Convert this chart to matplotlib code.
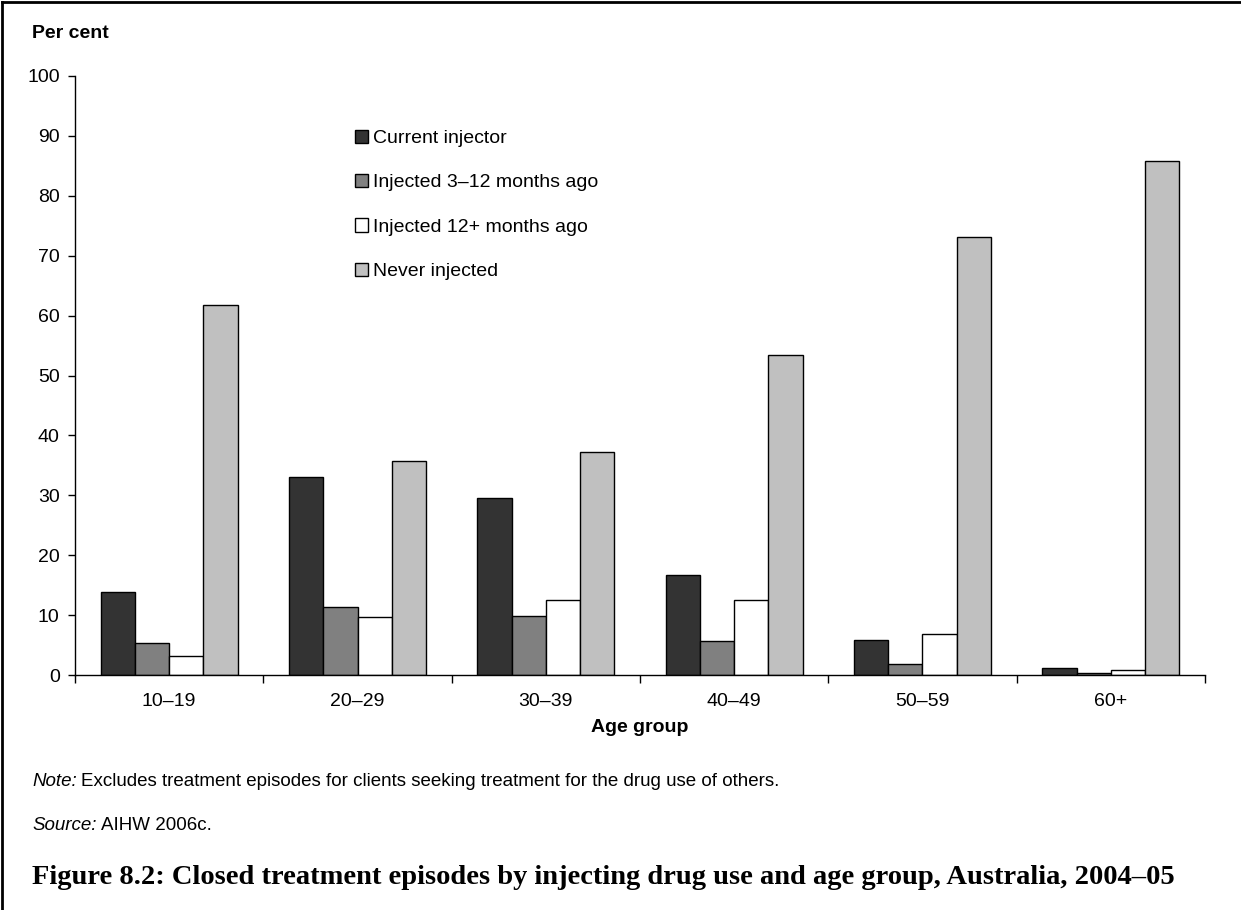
import numpy as np
import matplotlib
matplotlib.use("Agg")
import matplotlib.pyplot as plt
from matplotlib.lines import Line2D

plt.rcParams['font.family'] = ['Liberation Sans', 'DejaVu Sans']

# data
age_groups = ["10\u201319", "20\u201329", "30\u201339", "40\u201349", "50\u201359", "60+"]
current = [13.8, 33.0, 29.5, 16.7, 5.8, 1.1]
inj_3_12 = [5.4, 11.4, 9.9, 5.6, 1.9, 0.3]
inj_12plus = [3.1, 9.6, 12.6, 12.5, 6.8, 0.9]
never = [61.8, 35.8, 37.2, 53.4, 73.1, 85.8]

series = [current, inj_3_12, inj_12plus, never]
labels = ["Current injector", "Injected 3\u201312 months ago",
          "Injected 12+ months ago", "Never injected"]
colours = ["#333333", "#808080", "#ffffff", "#c0c0c0"]

fig = plt.figure(figsize=(12.41, 9.10), dpi=100)
ax = fig.add_axes([75/1241, 1-675/910, 1130/1241, 599/910])

x = np.arange(len(age_groups))
w = 0.182
for i, (vals, lab, col) in enumerate(zip(series, labels, colours)):
    ax.bar(x + (i - 1.5) * w, vals, w, color=col, edgecolor="black",
           linewidth=1.0, label=lab)

ax.set_xlim(-0.5, len(age_groups) - 0.5)
ax.set_ylim(0, 100)
ax.set_yticks(range(0, 101, 10))
ax.tick_params(axis='y', length=5, width=1, labelsize=14, pad=6)
ax.set_xticks(x)
ax.set_xticklabels(age_groups, fontsize=14)
ax.tick_params(axis='x', length=0, pad=13)
# boundary ticks between groups
ax.set_xticks(np.arange(-0.5, len(age_groups)), minor=True)
ax.tick_params(axis='x', which='minor', length=6, width=1, direction='out')
for s in ["top", "right"]:
    ax.spines[s].set_visible(False)
ax.spines['left'].set_linewidth(1)
ax.spines['bottom'].set_linewidth(1)

leg = ax.legend(loc="upper left", bbox_to_anchor=(272/1130, 1-46/599),
                frameon=False, fontsize=14, handlelength=0.67, handleheight=0.67,
                handletextpad=0.26, labelspacing=1.38, borderaxespad=0)

fig.text(32/1241, 1-33/910, "Per cent", fontsize=14, fontweight="bold",
         va="center", ha="left")
fig.text(640/1241, 1-728/910, "Age group", fontsize=14, fontweight="bold",
         va="center", ha="center")

# note and source lines: italic lead-in followed by plain text
t1 = fig.text(32/1241, 1-781/910, "Note:", fontsize=13.5, style="italic",
              va="center", ha="left")
ax.annotate("Excludes treatment episodes for clients seeking treatment for the drug use of others.",
            xy=(1, 0.5), xycoords=t1, xytext=(3, 0), textcoords="offset points",
            fontsize=13.5, va="center", ha="left", annotation_clip=False)
t2 = fig.text(32/1241, 1-826/910, "Source:", fontsize=13.5, style="italic",
              va="center", ha="left")
ax.annotate("AIHW 2006c.", xy=(1, 0.5), xycoords=t2, xytext=(3, 0),
            textcoords="offset points", fontsize=13.5, va="center", ha="left",
            annotation_clip=False)

fig.text(32/1241, 1-877/910,
         "Figure 8.2: Closed treatment episodes by injecting drug use and age group, Australia, 2004\u201305",
         fontsize=20.5, fontweight="bold", family=["Liberation Serif", "DejaVu Serif"],
         va="center", ha="left")

# frame on top and left edges
fig.add_artist(Line2D([1.5/1241, 1.5/1241], [0, 1 - 1.5/910], color="black", lw=2))
fig.add_artist(Line2D([1.5/1241, 1], [1 - 1.5/910, 1 - 1.5/910], color="black", lw=2))

fig.savefig("out.png", dpi=100)
